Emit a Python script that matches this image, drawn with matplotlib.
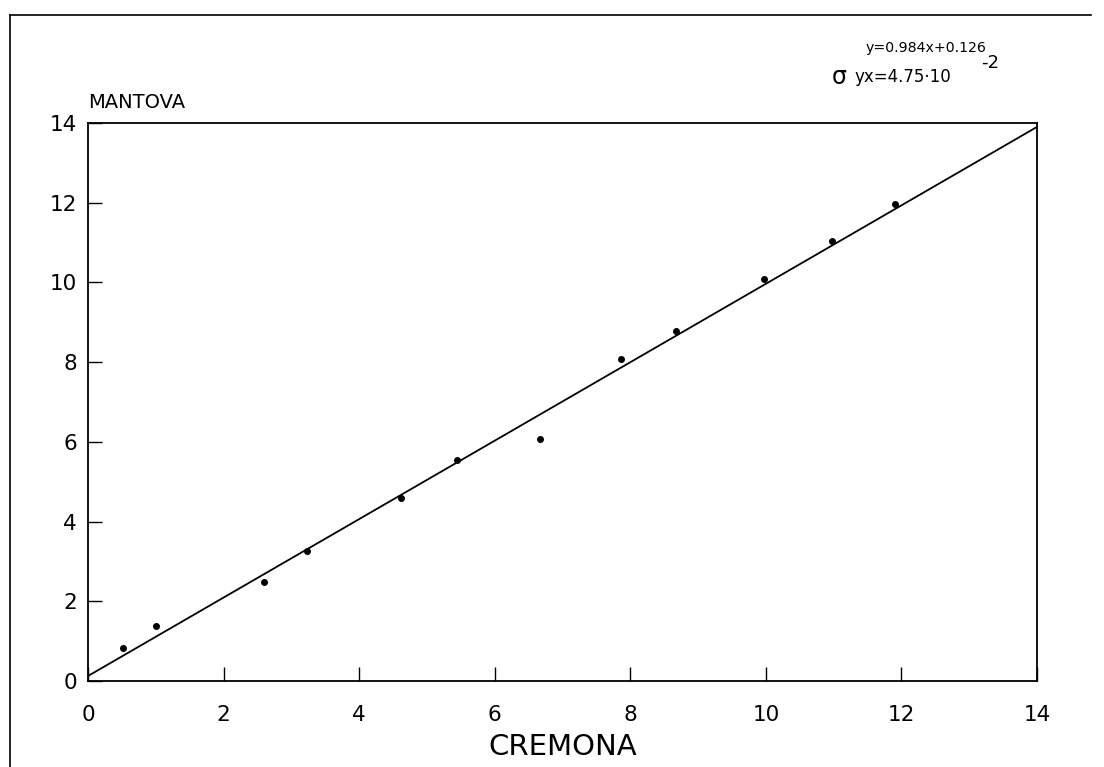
import matplotlib
matplotlib.use("Agg")
import matplotlib.pyplot as plt
import numpy as np
from matplotlib.lines import Line2D

plt.rcParams['font.family'] = ['DejaVu Sans']

# data
cremona = [0.51, 1.00, 2.60, 3.23, 4.62, 5.44, 6.67, 7.87, 8.67, 9.97, 10.97, 11.90]
mantova = [0.84, 1.39, 2.48, 3.25, 4.60, 5.54, 6.08, 8.07, 8.78, 10.09, 11.04, 11.98]
slope = 0.984
intercept = 0.126
ticks = [0, 2, 4, 6, 8, 10, 12, 14]

fig = plt.figure(figsize=(11.04, 7.67), dpi=100)
ax = fig.add_axes([0.0797, 0.1121, 0.8596, 0.7275])

ax.plot(cremona, mantova, 'o', color='black', markersize=4)
xl = np.array([0, 14])
ax.plot(xl, slope * xl + intercept, color='black', linewidth=1.3)

ax.set_xlim(0, 14)
ax.set_ylim(0, 14)
ax.set_xticks(ticks)
ax.set_yticks(ticks)
ax.tick_params(axis='x', direction='in', length=10, width=1, labelsize=15.5, pad=17)
ax.tick_params(axis='y', direction='in', length=10, width=1, labelsize=15.5, pad=8)
for s in ax.spines.values():
    s.set_linewidth(1.3)

ax.set_xlabel('CREMONA', fontsize=21, labelpad=6)
fig.text(0.0797, 0.866, 'MANTOVA', fontsize=14, ha='left', va='center')

# regression info
fig.text(0.784, 0.937, 'y=0.984x+0.126', fontsize=10.2, ha='left', va='center')
fig.text(0.753, 0.900, 'σ', fontsize=17, ha='left', va='center')
fig.text(0.774, 0.900, 'yx=4.75·10', fontsize=12, ha='left', va='center')
fig.text(0.889, 0.918, '-2', fontsize=13, ha='left', va='center')

# page frame from the scan
fig.add_artist(Line2D([0.009, 0.988], [0.980, 0.980], color='black', linewidth=1.2))
fig.add_artist(Line2D([0.009, 0.009], [0.0, 0.980], color='black', linewidth=1.2))

fig.savefig('out.png', dpi=100)
